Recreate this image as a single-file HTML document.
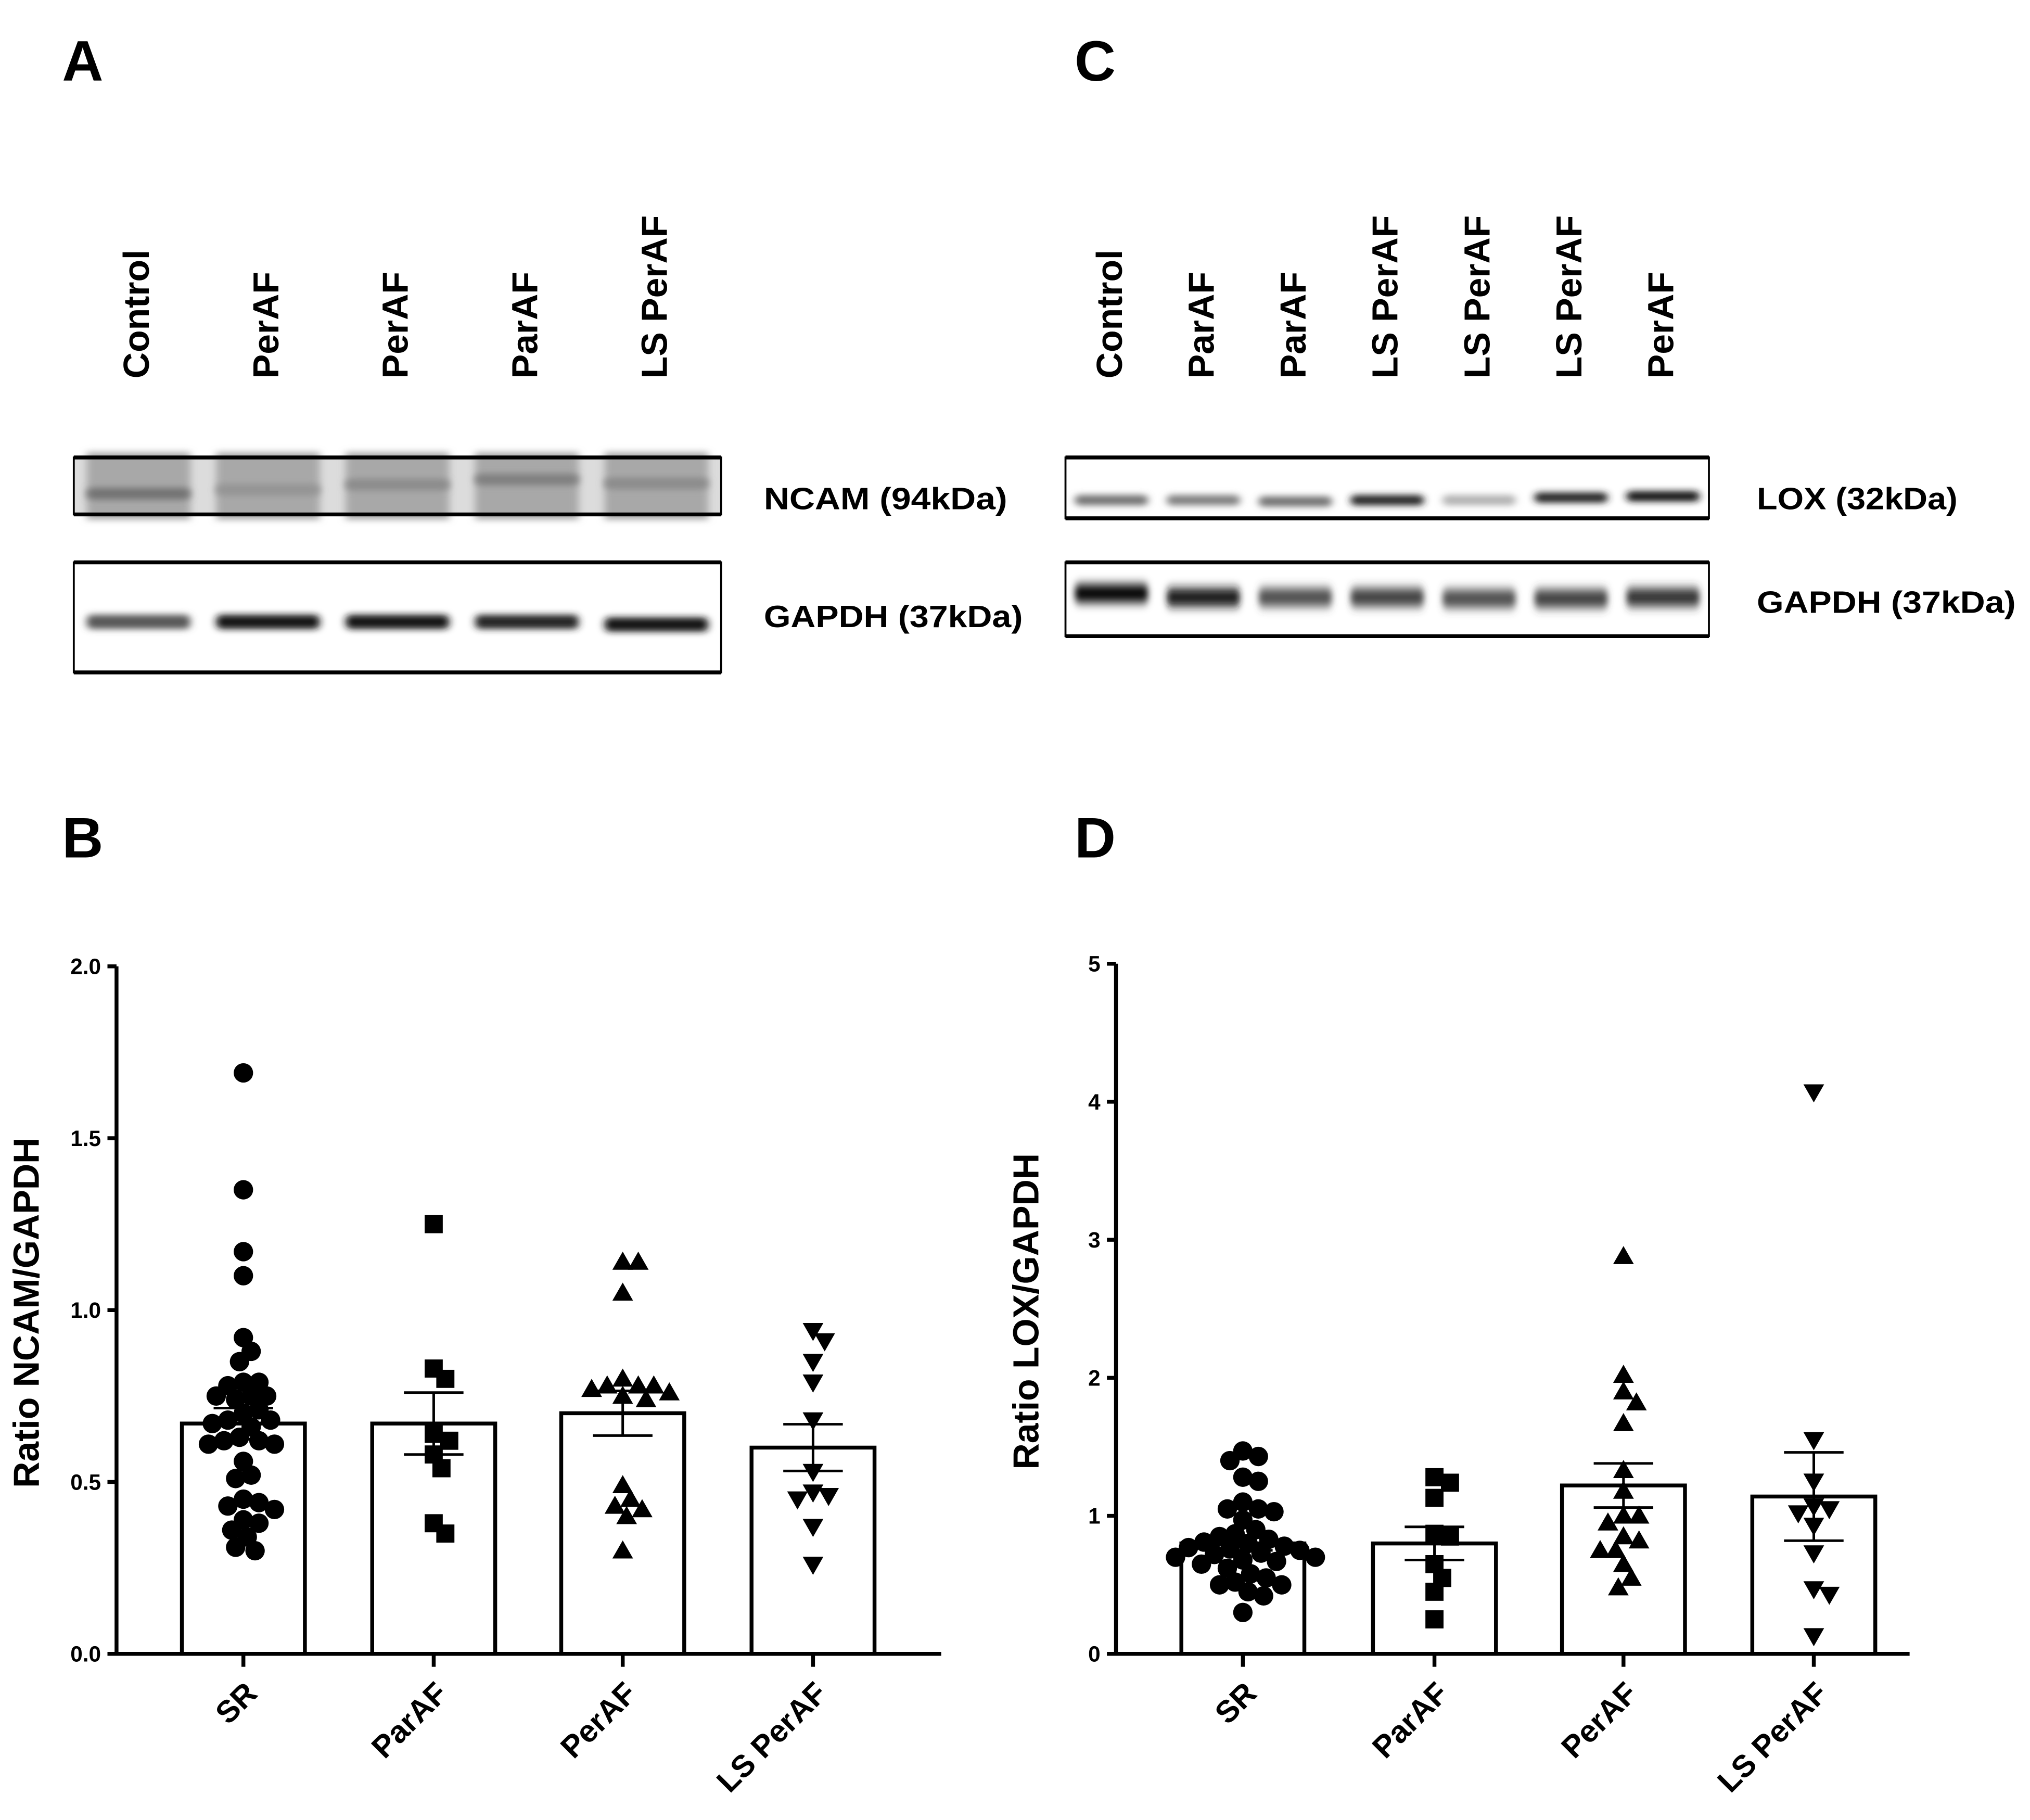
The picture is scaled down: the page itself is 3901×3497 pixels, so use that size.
<!DOCTYPE html>
<html><head><meta charset="utf-8"><style>
html,body{margin:0;padding:0;background:#fff;}
svg{display:block;}
text{font-family:"Liberation Sans",sans-serif;font-weight:bold;fill:#000;}
</style></head><body>
<svg id="fig" width="3901" height="3497" viewBox="0 0 1568 1405" xmlns="http://www.w3.org/2000/svg">
<defs>
<filter id="blur" x="-20%" y="-100%" width="140%" height="300%"><feGaussianBlur stdDeviation="3 2.5"/></filter>
<filter id="blur2" x="-20%" y="-100%" width="140%" height="300%"><feGaussianBlur stdDeviation="2.5 4"/></filter>
</defs>
<text x="48" y="62" font-size="44">A</text>
<text x="830" y="62" font-size="44">C</text>
<text x="48" y="662" font-size="44">B</text>
<text x="830" y="662" font-size="44">D</text>
<g id="blots"></g>
<g id="chartB"></g>
<g id="chartD"></g>
</svg>
<script>
// ---------- Chart data ----------
const categories = ["SR","ParAF","PerAF","LS PerAF"];
const ncamSR = [1.69,1.35,1.17,1.10,0.92,0.88,0.85,0.79,0.79,0.78,0.75,0.75,0.75,0.74,0.71,0.70,0.68,0.68,0.67,0.66,0.63,0.62,0.62,0.61,0.61,0.56,0.52,0.51,0.45,0.44,0.43,0.42,0.39,0.38,0.36,0.34,0.31,0.30];
const ncamParAF = [1.25,0.83,0.80,0.64,0.62,0.58,0.54,0.38,0.35];
const ncamPerAF = [1.14,1.14,1.05,0.80,0.78,0.78,0.78,0.77,0.76,0.75,0.74,0.49,0.45,0.43,0.42,0.40,0.30];
const ncamLS = [0.94,0.91,0.85,0.79,0.68,0.53,0.47,0.46,0.45,0.37,0.26];
const ncamMeans = [0.67,0.67,0.70,0.60];
const ncamSEM = [0.045,0.09,0.065,0.068];
const ncamTicks = ["0.0","0.5","1.0","1.5","2.0"];
const loxSR = [1.47,1.43,1.40,1.28,1.25,1.10,1.05,1.05,1.03,0.97,0.90,0.87,0.85,0.83,0.81,0.80,0.78,0.77,0.76,0.75,0.73,0.72,0.70,0.70,0.68,0.67,0.65,0.62,0.58,0.55,0.52,0.50,0.50,0.45,0.42,0.30];
const loxParAF = [1.28,1.24,1.13,0.87,0.85,0.65,0.55,0.45,0.25];
const loxPerAF = [2.88,2.02,1.90,1.82,1.67,1.33,1.18,1.00,1.00,0.95,0.85,0.82,0.75,0.75,0.65,0.55,0.48];
const loxLS = [4.07,1.55,1.25,1.07,1.05,1.02,0.93,0.73,0.47,0.43,0.13];
const loxMeans = [0.80,0.80,1.22,1.14];
const loxSEM = [0.05,0.12,0.16,0.32];
const loxTicks = ["0","1","2","3","4","5"];
// blot intensities (0..1 darkness)
const laneLabelsA = ["Control","PerAF","PerAF","ParAF","LS PerAF"];
const ncamBand = [0.55,0.42,0.45,0.5,0.45];
const gapdhBandA = [0.65,0.9,0.9,0.85,0.9];
const laneLabelsC = ["Control","ParAF","ParAF","LS PerAF","LS PerAF","LS PerAF","PerAF"];
const loxBand = [0.55,0.5,0.55,0.85,0.3,0.85,0.9];
const gapdhBandC = [1.0,0.9,0.7,0.75,0.7,0.75,0.8];

const NS="http://www.w3.org/2000/svg";
function mk(tag,attrs,parent){const e=document.createElementNS(NS,tag);for(const k in attrs)e.setAttribute(k,attrs[k]);parent.appendChild(e);return e;}

// ---------- Blots ----------
const blots=document.getElementById('blots');
function blot(x0,x1,y0,y1,gray,lanes,dark,bandY,bandH,name,filt,slant){
  const g=mk('g',{},blots);
  
  
  mk('rect',{x:x0,y:y0,width:x1-x0,height:y1-y0,fill:gray?'#dcdcdc':'#fff'},g);
  const n=lanes.length, w=(x1-x0)/n;
  if(gray){
    for(let i=0;i<n;i++){
      mk('rect',{x:x0+i*w+10,y:y0-4,width:w-20,height:y1-y0+8,fill:'#a8a8a8',filter:'url(#blur)'},g);
    }
  }
  for(let i=0;i<n;i++){
    const d=dark[i]; const c=Math.round(255*(1-d));
    const by=bandY+(slant?slant[i]:0);
    const b=mk('rect',{x:x0+i*w+w*0.1,y:by-bandH/2,width:w*0.8,height:bandH,rx:4,fill:`rgb(${c},${c},${c})`,filter:'url(#'+filt+')'},g);
    
    
  }
  mk('rect',{x:x0,y:y0,width:x1-x0,height:y1-y0,fill:'none',stroke:'#000','stroke-width':1.5},g);
  mk('line',{x1:x0,x2:x1,y1:y0,y2:y0,stroke:'#000','stroke-width':3},g);
  mk('line',{x1:x0,x2:x1,y1:y1,y2:y1,stroke:'#000','stroke-width':3},g);
}
blot(57,557,353,397,true,laneLabelsA,ncamBand,376,9,'ncam-blot','blur',[5,2,-2,-6,-3]);
blot(57,557,434,519,false,laneLabelsA,gapdhBandA,480,11,'gapdh-blot-a','blur',[0,0,0,0,2]);
blot(823,1320,353,400,false,laneLabelsC,loxBand,386,8,'lox-blot','blur',[0,0,1,0,0,-2,-3]);
blot(823,1320,434,491,false,laneLabelsC,gapdhBandC,461,14,'gapdh-blot-c','blur2',[-3,0,0,0,1,1,0]);
function laneLabels(labels,x0,x1,name){
  const n=labels.length,w=(x1-x0)/n;
  labels.forEach((l,i)=>{
    const cx=x0+w*i+w/2+8;
    const t=mk('text',{x:0,y:0,'font-size':28,transform:`translate(${cx},292) rotate(-90)`},blots);
    t.textContent=l;
    
    
  });
}
laneLabels(laneLabelsA,57,557,'lane-label-a');
laneLabels(laneLabelsC,823,1320,'lane-label-c');
[["NCAM (94kDa)",590,393,188],["GAPDH (37kDa)",590,484,200],["LOX (32kDa)",1357,393,155],["GAPDH (37kDa)",1357,473,200]].forEach(a=>{
  const t=mk('text',{x:a[1],y:a[2],'font-size':24,textLength:a[3],lengthAdjust:'spacingAndGlyphs'},blots);t.textContent=a[0];
  
  
});

// ---------- Charts ----------
function chart(gid,ax,ayTop,ayBot,axRight,ymax,ticks,centers,series,means,sem,title,step){
  const g=document.getElementById(gid);
  const y=v=>ayBot-(v/ymax)*(ayBot-ayTop);
  const bw=95;
  means.forEach((m,i)=>{
    const r=mk('rect',{x:centers[i]-bw/2,y:y(m),width:bw,height:ayBot-y(m),fill:'#fff',stroke:'#000','stroke-width':3},g);
    
    
  });
  const shapes=['circle','square','up','down'];
  const rad=7.5;
  series.forEach((vals,i)=>{
    const placed=[];
    vals.forEach(v=>{
      const py=y(v); let px=centers[i];
      for(let k=0;k<60;k++){
        const off=(k%2?1:-1)*Math.ceil(k/2)*step;
        const cx=centers[i]+off;
        if(placed.every(p=>Math.hypot(p[0]-cx,p[1]-py)>=2*rad-3)){px=cx;break;}
      }
      placed.push([px,py]);
      let e;
      const s=shapes[i];
      if(s==='circle') e=mk('circle',{cx:px,cy:py,r:rad,fill:'#000'},g);
      else if(s==='square') e=mk('rect',{x:px-7,y:py-7,width:14,height:14,fill:'#000'},g);
      else if(s==='up') e=mk('polygon',{points:`${px},${py-8} ${px+8},${py+6} ${px-8},${py+6}`,fill:'#000'},g);
      else e=mk('polygon',{points:`${px},${py+8} ${px+8},${py-6} ${px-8},${py-6}`,fill:'#000'},g);
      
      
    });
  });
  means.forEach((m,i)=>{
    const c=centers[i];
    const eg=mk('g',{stroke:'#000','stroke-width':2},g);
    
    
    mk('line',{x1:c,x2:c,y1:y(m+sem[i]),y2:y(m-sem[i])},eg);
    mk('line',{x1:c-23,x2:c+23,y1:y(m+sem[i]),y2:y(m+sem[i])},eg);
    mk('line',{x1:c-23,x2:c+23,y1:y(m-sem[i]),y2:y(m-sem[i])},eg);
  });
  const axg=mk('g',{stroke:'#000','stroke-width':3},g);
  
  
  mk('line',{x1:ax,x2:ax,y1:ayTop,y2:ayBot+1.5},axg);
  mk('line',{x1:ax-1.5,x2:axRight,y1:ayBot,y2:ayBot},axg);
  ticks.forEach((t,k)=>{
    const v=ymax*k/(ticks.length-1);
    mk('line',{x1:ax-7,x2:ax,y1:y(v),y2:y(v)},axg);
    const tx=mk('text',{x:ax-12,y:y(v)+6,'font-size':17,'text-anchor':'end'},g);
    tx.textContent=t;
    
    
  });
  centers.forEach((c,i)=>{
    mk('line',{x1:c,x2:c,y1:ayBot,y2:ayBot+10},axg);
    const tx=mk('text',{x:0,y:0,'font-size':24,'text-anchor':'end',transform:`translate(${c+12},${ayBot+32}) rotate(-45)`},g);
    tx.textContent=categories[i];
    
    
  });
  const tt=mk('text',{x:0,y:0,'font-size':28,'text-anchor':'middle',transform:`translate(${ax-60},${(ayTop+ayBot)/2+2}) rotate(-90)`},g);
  tt.textContent=title;
  
  
}
chart('chartB',90,746,1277,727,2.0,ncamTicks,[188,335,481,628],[ncamSR,ncamParAF,ncamPerAF,ncamLS],ncamMeans,ncamSEM,'Ratio NCAM/GAPDH',3);
chart('chartD',862,744,1277,1475,5,loxTicks,[960,1108,1254,1401],[loxSR,loxParAF,loxPerAF,loxLS],loxMeans,loxSEM,'Ratio LOX/GAPDH',2);
</script>
</body></html>
